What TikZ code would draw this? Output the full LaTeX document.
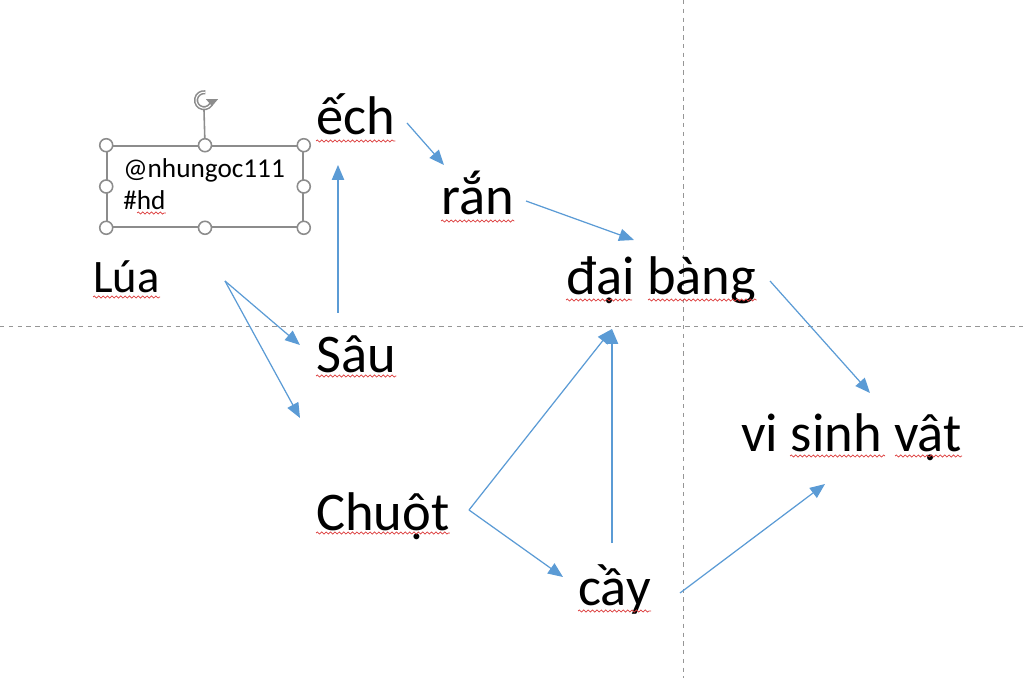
\documentclass[tikz,border=0pt]{standalone}
\usepackage{fontspec}
\setmainfont{Carlito}
\usetikzlibrary{arrows.meta,positioning,decorations.pathmorphing}
\definecolor{arrowblue}{RGB}{91,155,213}
\definecolor{guidegray}{RGB}{150,150,150}
\definecolor{handlegray}{RGB}{140,140,140}
\definecolor{squigred}{RGB}{220,60,60}

\begin{document}
\begin{tikzpicture}[
    x=0.02cm, y=-0.02cm,
    loai/.style={anchor=base west, inner sep=0pt, font=\fontsize{31}{36}\selectfont},
    ghichu/.style={anchor=base west, inner sep=0pt, font=\fontsize{15.5}{19}\selectfont},
    link/.style={draw=arrowblue, line width=0.7pt, -{Triangle[length=8.5pt,width=7pt]}},
    guide/.style={draw=guidegray, line width=0.5pt, dash pattern=on 2.5pt off 2.5pt},
    squiggle/.style={draw=squigred, line width=0.4pt, decorate,
        decoration={snake, amplitude=0.6pt, segment length=2.5pt}},
    tagbox/.style={draw=handlegray, line width=0.9pt, minimum width=3.92cm, minimum height=1.62cm, inner sep=0pt},
    handle/.style={circle, draw=handlegray, fill=white, line width=0.9pt, minimum size=0.26cm, inner sep=0pt}
]
\useasboundingbox (0,0) rectangle (1024,678);

\draw[guide] (0,326) -- (1024,326);
\draw[guide] (683,0) -- (683,678);

% the text box, selected
\node[tagbox] (hop) at (205,186.5) {};
\coordinate (xoay) at ([shift={(-1,-45)}]hop.north);
\draw[handlegray, line width=0.9pt] (hop.north) -- ([shift={(0,10)}]xoay);
\draw[handlegray, line width=2.4pt]
    ([shift={(-80:8)}]xoay) arc[start angle=-80, end angle=-350, radius=8];
\draw[white, line width=0.6pt]
    ([shift={(-80:8)}]xoay) arc[start angle=-80, end angle=-345, radius=8];
\fill[handlegray] ([shift={(2,-1)}]xoay) -- ([shift={(14,-1)}]xoay) -- ([shift={(8,6)}]xoay) -- cycle;
\foreach \a in {north west, north, north east, west, east, south west, south, south east}
    \node[handle] at (hop.\a) {};
\node[ghichu] (ten) at (123,178) {@nhungoc111};
\node[ghichu] (hd) at (123,210) {\#hd};

% the food web
\node[loai] (ech) at (316,135) {ếch};
\node[loai] (ran) at (441,215) {rắn};
\node[loai] (daibang) at (566,295) {đại bàng};
\node[loai, font=\fontsize{26.5}{32}\selectfont] (lua) at (93,293) {Lúa};
\node[loai] (sau) at (316,373) {Sâu};
\node[loai] (chuot) at (316,530) {Chuột};
\node[loai] (cay) at (578,605) {cầy};
\node[loai] (vsv) at (741,452) {vi sinh vật};
\coordinate (trong) at (300,418);

\draw[link] ([shift={(132,-12)}]lua.base west) -- ([shift={(-16,-28)}]sau.base west);
\draw[link] ([shift={(132,-12)}]lua.base west) -- (trong);
\draw[link] ([shift={(22,-60)}]sau.base west) -- ([shift={(22,30)}]ech.base west);
\draw[link] ([shift={(91,-12)}]ech.base west) -- ([shift={(3,-50)}]ran.base west);
\draw[link] ([shift={(85,-14)}]ran.base west) -- ([shift={(68,-55)}]daibang.base west);
\draw[link] ([shift={(204,-14)}]daibang.base west) -- ([shift={(129,-59)}]vsv.base west);
\draw[link] ([shift={(153,-20)}]chuot.base west) -- ([shift={(46,34)}]daibang.base west);
\draw[link] ([shift={(153,-20)}]chuot.base west) -- ([shift={(-15,-28)}]cay.base west);
\draw[link] ([shift={(34,-62)}]cay.base west) -- ([shift={(46,34)}]daibang.base west);
\draw[link] ([shift={(102,-12)}]cay.base west) -- ([shift={(84,32)}]vsv.base west);

% spelling marks
\draw[squiggle] ([shift={(0,6)}]ech.base west) -- ([shift={(0,6)}]ech.base east);
\draw[squiggle] ([shift={(0,6)}]ran.base west) -- ([shift={(0,6)}]ran.base east);
\draw[squiggle] ([shift={(0,5)}]daibang.base west) -- ([shift={(66,5)}]daibang.base west);
\draw[squiggle] ([shift={(82,5)}]daibang.base west) -- ([shift={(0,5)}]daibang.base east);
\draw[squiggle] ([shift={(0,4)}]lua.base west) -- ([shift={(0,4)}]lua.base east);
\draw[squiggle] ([shift={(0,3)}]sau.base west) -- ([shift={(0,3)}]sau.base east);
\draw[squiggle] ([shift={(0,3)}]chuot.base west) -- ([shift={(0,3)}]chuot.base east);
\draw[squiggle] ([shift={(0,6)}]cay.base west) -- ([shift={(0,6)}]cay.base east);
\draw[squiggle] ([shift={(49,4)}]vsv.base west) -- ([shift={(144,4)}]vsv.base west);
\draw[squiggle] ([shift={(154,4)}]vsv.base west) -- ([shift={(0,4)}]vsv.base east);
\draw[squiggle] ([shift={(14,3)}]hd.base west) -- ([shift={(0,3)}]hd.base east);
\end{tikzpicture}
\end{document}
